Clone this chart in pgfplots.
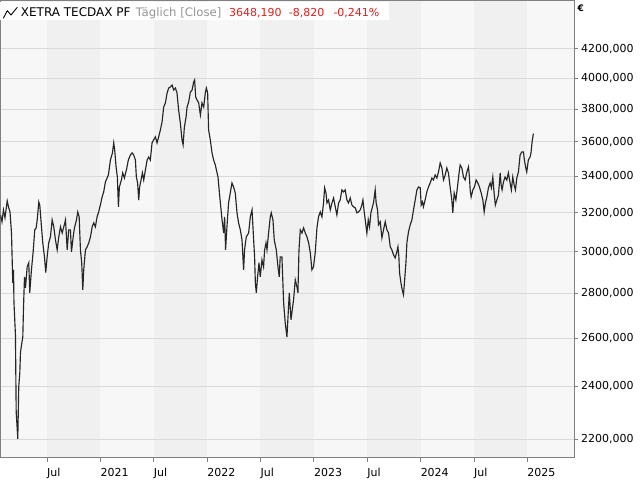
\documentclass[border=0pt]{standalone}
\usepackage{fontspec}
\setmainfont{DejaVu Sans}
\usepackage{pgfplots}
\pgfplotsset{compat=1.18}
\definecolor{bandA}{RGB}{247,247,247}
\definecolor{bandB}{RGB}{240,240,240}
\definecolor{gridc}{RGB}{218,218,218}
\definecolor{framec}{RGB}{128,128,128}
\definecolor{linec}{RGB}{38,38,38}
\definecolor{redc}{RGB}{225,30,30}
\definecolor{grayc}{RGB}{150,150,150}
\begin{document}
\begin{tikzpicture}[x=1bp,y=1bp]
\begin{axis}[
  set layers,
  at={(0.5bp,22bp)}, anchor=south west,
  scale only axis, width=573.5bp, height=457bp,
  xmin=2020.064, xmax=2025.438,
  ymode=log, ymin=2132, ymax=4545,
  axis line style={framec, line width=1bp},
  xtick={2020.5,2021,2021.5,2022,2022.5,2023,2023.5,2024,2024.5,2025},
  xticklabels={Jul,2021,Jul,2022,Jul,2023,Jul,2024,Jul,2025},
  ytick={2200,2400,2600,2800,3000,3200,3400,3600,3800,4000,4200},
  yticklabels={{2200,000},{2400,000},{2600,000},{2800,000},{3000,000},{3200,000},{3400,000},{3600,000},{3800,000},{4000,000},{4200,000}},
  minor tick num=0, yminorticks=false,
  xtick pos=bottom, ytick pos=right, yticklabel pos=right,
  tick align=outside, major tick length=4bp,
  tick style={framec, line width=0.8bp},
  ymajorgrids, major grid style={gridc, line width=1bp},
  /pgf/number format/assume math mode=true,
  ticklabel style={font=\fontsize{11bp}{13bp}\selectfont, text=black},
  yticklabel style={anchor=west, inner sep=0pt, xshift=3bp},
  xticklabel style={anchor=north west, inner sep=0pt, yshift=-6bp},
  axis background/.style={fill=bandA},
]
\addplot[fill=bandB, draw=none, on layer=axis background, forget plot] coordinates {(2020.5,2132) (2021,2132) (2021,4545) (2020.5,4545)} -- cycle;
\addplot[fill=bandB, draw=none, on layer=axis background, forget plot] coordinates {(2021.5,2132) (2022,2132) (2022,4545) (2021.5,4545)} -- cycle;
\addplot[fill=bandB, draw=none, on layer=axis background, forget plot] coordinates {(2022.5,2132) (2023,2132) (2023,4545) (2022.5,4545)} -- cycle;
\addplot[fill=bandB, draw=none, on layer=axis background, forget plot] coordinates {(2023.5,2132) (2024,2132) (2024,4545) (2023.5,4545)} -- cycle;
\addplot[fill=bandB, draw=none, on layer=axis background, forget plot] coordinates {(2024.5,2132) (2025,2132) (2025,4545) (2024.5,4545)} -- cycle;
\addplot[linec, line width=1.15bp, mark=none] coordinates {
(2020.064,3189) (2020.078,3153) (2020.092,3216) (2020.106,3174) (2020.127,3264)
(2020.139,3232) (2020.153,3205) (2020.167,3095) (2020.179,2850) (2020.186,2912)
(2020.190,2761) (2020.204,2614) (2020.211,2301) (2020.226,2201) (2020.235,2399)
(2020.245,2455) (2020.251,2538) (2020.261,2571) (2020.273,2605) (2020.279,2725)
(2020.284,2803) (2020.289,2878) (2020.298,2826) (2020.314,2926) (2020.329,2946)
(2020.338,2803) (2020.354,2912) (2020.370,3000) (2020.385,3111) (2020.398,3121)
(2020.408,3163) (2020.423,3258) (2020.432,3242) (2020.445,3147) (2020.460,3045)
(2020.476,2975) (2020.488,2898) (2020.501,2975) (2020.516,3045) (2020.532,3075)
(2020.548,3163) (2020.563,3127) (2020.579,3060) (2020.595,3010) (2020.610,3075)
(2020.626,3127) (2020.642,3095) (2020.657,3127) (2020.673,3163) (2020.682,3075)
(2020.689,3010) (2020.703,3111) (2020.719,3111) (2020.729,3000) (2020.745,3075)
(2020.757,3121) (2020.776,3163) (2020.788,3205) (2020.801,3179) (2020.813,3010)
(2020.825,2946) (2020.835,2817) (2020.844,2912) (2020.860,3010) (2020.876,3025)
(2020.891,3045) (2020.907,3075) (2020.923,3127) (2020.938,3147) (2020.953,3127)
(2020.969,3179) (2020.984,3205) (2021.000,3242) (2021.016,3285) (2021.031,3313)
(2021.047,3368) (2021.075,3407) (2021.094,3493) (2021.113,3534) (2021.125,3593)
(2021.134,3551) (2021.147,3453) (2021.159,3396) (2021.169,3232) (2021.178,3340)
(2021.197,3379) (2021.209,3419) (2021.225,3390) (2021.244,3436) (2021.262,3493)
(2021.281,3522) (2021.297,3534) (2021.312,3522) (2021.328,3493) (2021.337,3396)
(2021.349,3362) (2021.359,3269) (2021.368,3340) (2021.381,3379) (2021.394,3419)
(2021.406,3379) (2021.422,3436) (2021.438,3493) (2021.453,3510) (2021.468,3493)
(2021.484,3593) (2021.499,3611) (2021.515,3629) (2021.531,3593) (2021.546,3629)
(2021.562,3671) (2021.578,3720) (2021.593,3813) (2021.609,3839) (2021.625,3903)
(2021.640,3935) (2021.656,3942) (2021.672,3955) (2021.687,3922) (2021.703,3935)
(2021.718,3903) (2021.733,3795) (2021.749,3714) (2021.765,3611) (2021.775,3581)
(2021.787,3689) (2021.803,3751) (2021.812,3813) (2021.827,3845) (2021.843,3909)
(2021.859,3922) (2021.874,3975) (2021.883,3988) (2021.893,3877) (2021.906,3858)
(2021.921,3839) (2021.937,3763) (2021.952,3839) (2021.968,3813) (2021.983,3903)
(2021.993,3935) (2022.005,3903) (2022.014,3671) (2022.030,3611) (2022.046,3534)
(2022.061,3493) (2022.077,3464) (2022.093,3419) (2022.102,3396) (2022.117,3296)
(2022.140,3163) (2022.155,3095) (2022.164,3179) (2022.173,3010) (2022.186,3127)
(2022.201,3253) (2022.217,3307) (2022.233,3362) (2022.248,3340) (2022.264,3307)
(2022.280,3200) (2022.295,3147) (2022.311,3111) (2022.327,3060) (2022.342,2912)
(2022.351,3010) (2022.367,3075) (2022.389,3095) (2022.405,3179) (2022.421,3216)
(2022.436,3060) (2022.445,2975) (2022.452,2850) (2022.461,2803) (2022.473,2878)
(2022.486,2946) (2022.498,2878) (2022.514,2960) (2022.529,2926) (2022.539,3010)
(2022.552,3045) (2022.561,3010) (2022.576,3095) (2022.592,3179) (2022.601,3200)
(2022.617,3163) (2022.629,3060) (2022.648,3010) (2022.664,2926) (2022.676,2878)
(2022.685,2975) (2022.701,2975) (2022.717,2757) (2022.732,2667) (2022.748,2605)
(2022.758,2693) (2022.770,2803) (2022.786,2680) (2022.798,2725) (2022.810,2770)
(2022.826,2864) (2022.842,2831) (2022.851,2803) (2022.861,3010) (2022.873,3111)
(2022.889,3095) (2022.904,3121) (2022.920,3095) (2022.936,3075) (2022.951,3045)
(2022.967,2995) (2022.982,2912) (2022.997,2926) (2023.013,2995) (2023.029,3121)
(2023.044,3179) (2023.060,3205) (2023.076,3179) (2023.091,3253) (2023.101,3335)
(2023.114,3307) (2023.123,3253) (2023.138,3269) (2023.154,3216) (2023.170,3253)
(2023.185,3280) (2023.201,3232) (2023.216,3189) (2023.232,3253) (2023.247,3269)
(2023.263,3324) (2023.278,3313) (2023.294,3324) (2023.310,3269) (2023.325,3253)
(2023.341,3280) (2023.357,3242) (2023.372,3232) (2023.388,3227) (2023.404,3200)
(2023.419,3205) (2023.435,3216) (2023.450,3242) (2023.460,3269) (2023.472,3205)
(2023.484,3153) (2023.497,3095) (2023.510,3163) (2023.522,3127) (2023.535,3200)
(2023.547,3227) (2023.559,3253) (2023.575,3324) (2023.584,3253) (2023.597,3216)
(2023.606,3137) (2023.622,3153) (2023.638,3070) (2023.653,3111) (2023.669,3153)
(2023.685,3111) (2023.700,3095) (2023.716,3025) (2023.731,3010) (2023.747,2985)
(2023.762,2970) (2023.778,3000) (2023.788,3025) (2023.797,2975) (2023.803,2898)
(2023.816,2850) (2023.828,2817) (2023.840,2794) (2023.849,2850) (2023.863,2946)
(2023.872,3045) (2023.887,3101) (2023.903,3137) (2023.919,3163) (2023.934,3216)
(2023.950,3269) (2023.966,3324) (2023.981,3340) (2023.997,3335) (2024.006,3242)
(2024.018,3258) (2024.027,3232) (2024.043,3269) (2024.059,3313) (2024.074,3340)
(2024.090,3362) (2024.106,3390) (2024.121,3379) (2024.137,3407) (2024.153,3390)
(2024.168,3424) (2024.184,3476) (2024.200,3447) (2024.215,3379) (2024.231,3407)
(2024.246,3447) (2024.261,3419) (2024.277,3340) (2024.293,3269) (2024.302,3200)
(2024.315,3307) (2024.331,3269) (2024.346,3340) (2024.362,3424) (2024.371,3464)
(2024.387,3447) (2024.402,3396) (2024.418,3379) (2024.434,3424) (2024.449,3453)
(2024.458,3396) (2024.465,3324) (2024.474,3285) (2024.490,3324) (2024.505,3340)
(2024.521,3379) (2024.537,3362) (2024.552,3340) (2024.568,3307) (2024.584,3269)
(2024.596,3205) (2024.608,3253) (2024.621,3285) (2024.636,3335) (2024.652,3362)
(2024.664,3335) (2024.677,3396) (2024.689,3307) (2024.701,3242) (2024.715,3269)
(2024.730,3296) (2024.746,3419) (2024.755,3351) (2024.764,3324) (2024.777,3368)
(2024.792,3396) (2024.808,3379) (2024.823,3419) (2024.839,3362) (2024.851,3324)
(2024.864,3396) (2024.877,3351) (2024.889,3324) (2024.902,3390) (2024.917,3424)
(2024.933,3522) (2024.949,3540) (2024.964,3540) (2024.973,3493) (2024.986,3447)
(2024.995,3424) (2025.010,3493) (2025.026,3510) (2025.035,3534) (2025.045,3599)
(2025.057,3648.19)
};
\end{axis}
% header box
\fill[white] (0,460) rectangle (389,478.4);
\draw[black, line width=0.9bp, line join=round] (3.3,461.7)--(7.3,469.3)--(11,465)--(17.3,472.7);
\node[anchor=base west, inner sep=0pt, font=\fontsize{12bp}{14bp}\selectfont, text=black] at (20.7,463.5) {XETRA TECDAX PF};
\node[anchor=base west, inner sep=0pt, font=\fontsize{11.7bp}{14bp}\selectfont, text=grayc] at (135.7,463.5) {Täglich [Close]};
\node[anchor=base west, inner sep=0pt, font=\fontsize{11bp}{14bp}\selectfont, text=redc] at (229,463.5) {3648,190};
\node[anchor=base west, inner sep=0pt, font=\fontsize{11bp}{14bp}\selectfont, text=redc] at (288.7,463.5) {-8,820};
\node[anchor=base west, inner sep=0pt, font=\fontsize{11bp}{14bp}\selectfont, text=redc] at (333.3,463.5) {-0,241\%};
\node[anchor=base west, inner sep=0pt, font=\fontsize{9bp}{11bp}\selectfont\bfseries, text=black] at (577.5,468) {€};
\pgfresetboundingbox
\useasboundingbox (0,0) rectangle (640,480);
\end{tikzpicture}
\end{document}
